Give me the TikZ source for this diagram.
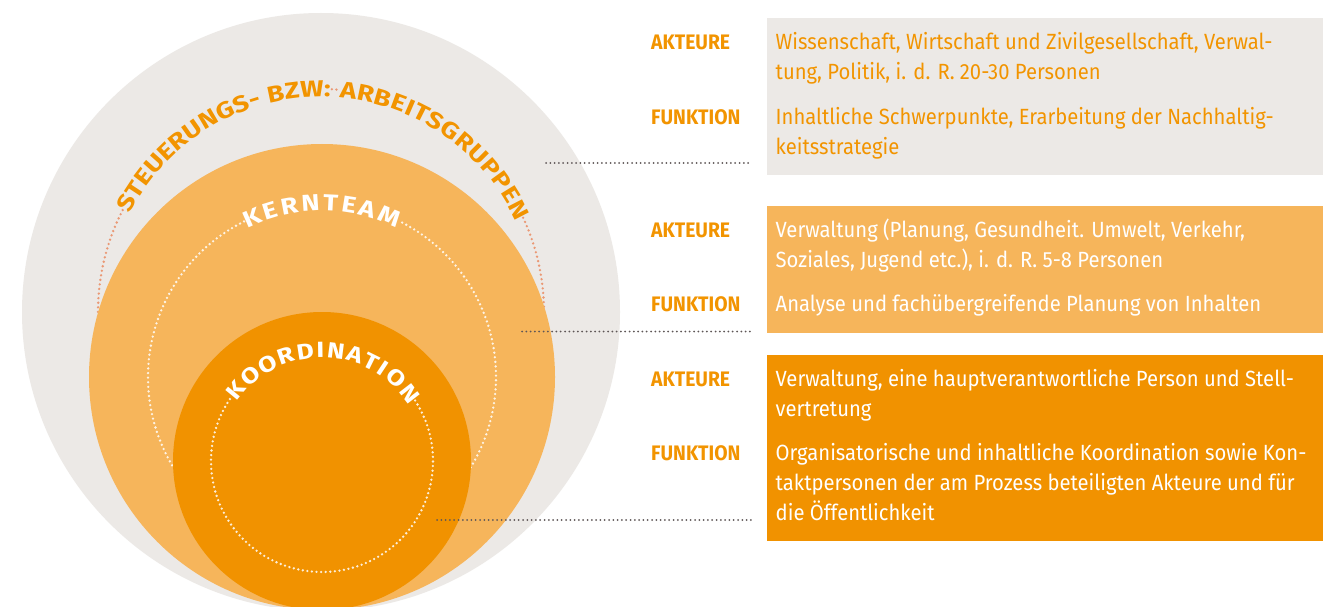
\documentclass[tikz,border=0pt]{standalone}
\usepackage{fontspec}
\setmainfont[FakeStretch=0.92]{Fira Sans}
\newfontfamily\ringfont[FakeStretch=1.2]{Fira Sans}
\usetikzlibrary{positioning}
\usetikzlibrary{decorations.text}

\definecolor{ringgrey}{HTML}{ECE9E6}
\definecolor{ringlight}{HTML}{F6B55B}
\definecolor{ringdark}{HTML}{F19200}
\definecolor{orangetext}{HTML}{F29400}
\definecolor{salmon}{HTML}{EA9874}
\definecolor{leadergrey}{HTML}{5F5757}

\begin{document}
\begin{tikzpicture}[x=1pt, y=1pt,
    ring/.style={circle, inner sep=0pt},
    ringdots/.style={line width=2.6pt, line cap=round, dash pattern=on 0pt off 4.6pt},
    leader/.style={leadergrey, line width=2pt, line cap=round, dash pattern=on 0pt off 4.3pt, shorten >=15pt},
    infobox/.style={anchor=north west, minimum width=556pt, inner sep=0pt},
    rowtag/.style={anchor=base west, orangetext, inner sep=0pt, font=\fontsize{21}{30}\selectfont\bfseries},
    rowtext/.style={anchor=base west, align=left, inner sep=0pt, font=\fontsize{22}{30}\selectfont},
    arctext/.style={decorate, decoration={text along path, text align=fit to path}}]
  \path[use as bounding box] (0,0) rectangle (1344,-607);
  \fill[white] (0,0) rectangle (1344,-607);

  \begin{scope}
    \clip (0,0) rectangle (1344,-607);
    % Steuerungs- bzw. Arbeitsgruppen
    \node[ring, fill=ringgrey, minimum size=598pt] (steuer) at (321,-312) {};
    \draw[salmon, ringdots] (steuer.center) ++(152.8:223) arc[start angle=152.8, end angle=215, radius=223];
    \draw[salmon, ringdots] (steuer.center) ++(87.2:223) arc[start angle=87.2, end angle=85.3, radius=223];
    \draw[salmon, ringdots] (steuer.center) ++(25:223) arc[start angle=25, end angle=-35, radius=223];
    \path[arctext, decoration={text color=orangetext, raise=-7.9pt,
        text={|\ringfont\fontsize{23}{23}\selectfont\bfseries|STEUERUNGS- BZW:}}]
      (steuer.center) ++(152.8:223) arc[start angle=152.8, end angle=87.5, radius=223];
    \path[arctext, decoration={text color=orangetext, raise=-7.9pt,
        text={|\ringfont\fontsize{23}{23}\selectfont\bfseries|ARBEITSGRUPPEN}}]
      (steuer.center) ++(85:223) arc[start angle=85, end angle=25, radius=223];

    % Kernteam
    \node[ring, fill=ringlight, minimum size=466pt] (kern) at (322,-377) {};
    \draw[white, opacity=0.85, ringdots] (kern.center) ++(116.6:174) arc[start angle=116.6, end angle=423.7, radius=174];
    \path[arctext, decoration={text color=white, raise=-7.9pt,
        text={|\ringfont\fontsize{23}{23}\selectfont\bfseries|KERNTEAM}}]
      (kern.center) ++(116.6:174) arc[start angle=116.6, end angle=63.7, radius=174];

    % Koordination
    \node[ring, fill=ringdark, minimum size=298pt] (koord) at (322,-461) {};
    \draw[white, opacity=0.85, ringdots] (koord.center) ++(33:111) arc[start angle=33, end angle=-215, radius=111];
    \path[arctext, decoration={text color=white, raise=-7.6pt,
        text={|\ringfont\fontsize{22}{22}\selectfont\bfseries|KOORDINATION}}]
      (koord.center) ++(145:111) arc[start angle=145, end angle=33, radius=111];
  \end{scope}

  % Steckbriefe
  \node[infobox, fill=ringgrey, minimum height=157pt] (sbox) at (767,-18) {};
  \node[infobox, fill=ringlight, minimum height=127pt] (kbox) at (767,-206) {};
  \node[infobox, fill=ringdark, minimum height=186pt] (dbox) at (767,-355) {};

  % base anchor sits on the last line
  \node[rowtag] (sakt) at (651,-50) {AKTEURE};
  \node[rowtag] (sfkt) at (651,-125) {FUNKTION};
  \node[rowtext, orangetext] (sakttext) at (775.5,-80)
    {Wissenschaft, Wirtschaft und Zivilgesellschaft, Verwal-\\tung, Politik, i. d. R. 20-30 Personen};
  \node[rowtext, orangetext] (sfkttext) at (775.5,-155)
    {Inhaltliche Schwerpunkte, Erarbeitung der Nachhaltig-\\keitsstrategie};

  \node[rowtag] (kakt) at (651,-237) {AKTEURE};
  \node[rowtag] (kfkt) at (651,-311.5) {FUNKTION};
  \node[rowtext, white] (kakttext) at (775.5,-267)
    {Verwaltung (Planung, Gesundheit. Umwelt, Verkehr,\\Soziales, Jugend etc.), i. d. R. 5-8 Personen};
  \node[rowtext, white] (kfkttext) at (775.5,-311.5)
    {Analyse und fachübergreifende Planung von Inhalten};

  \node[rowtag] (dakt) at (651,-386.5) {AKTEURE};
  \node[rowtag] (dfkt) at (651,-460.5) {FUNKTION};
  \node[rowtext, white] (dakttext) at (775.5,-416.5)
    {Verwaltung, eine hauptverantwortliche Person und Stell-\\vertretung};
  \node[rowtext, white] (dfkttext) at (775.5,-520.5)
    {Organisatorische und inhaltliche Koordination sowie Kon-\\taktpersonen der am Prozess beteiligten Akteure und für\\die Öffentlichkeit};

  % Verbindungen
  \coordinate (sfrom) at (546,-163);
  \coordinate (kfrom) at (522,-331.5);
  \coordinate (dfrom) at (437,-520);
  \draw[leader] (sfrom) -- (sfrom -| sbox.west);
  \draw[leader] (kfrom) -- (kfrom -| kbox.west);
  \draw[leader] (dfrom) -- (dfrom -| dbox.west);
\end{tikzpicture}
\end{document}
